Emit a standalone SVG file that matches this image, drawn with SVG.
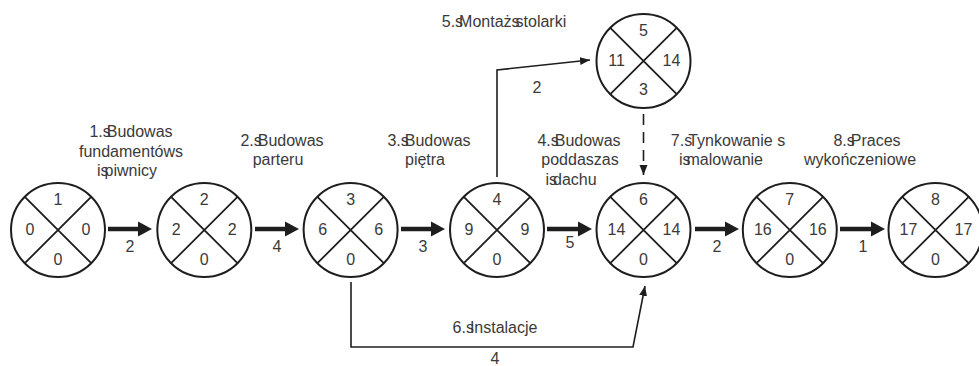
<svg xmlns="http://www.w3.org/2000/svg" xmlns:xlink="http://www.w3.org/1999/xlink" width="979" height="366" viewBox="0 0 979 366">
  <style>
    .ring { fill: #ffffff; stroke: #1e1e1e; stroke-width: 2; }
    .cross { stroke: #1e1e1e; stroke-width: 1.8; fill: none; }
    text { font-family: "Liberation Sans", Arial, sans-serif; font-size: 16px; fill: #3a3a3a; }
    .num { text-anchor: middle; }
    .lbl { text-anchor: middle; }
    .shaft { stroke: #1e1e1e; stroke-width: 4.5; fill: none; }
    .link { stroke: #1e1e1e; stroke-width: 1.6; fill: none; }
    .dash { stroke: #1e1e1e; stroke-width: 1.6; fill: none; stroke-dasharray: 11 7; }
    .head { fill: #1e1e1e; }
  </style>
  <defs>
    <!-- event node: circle split into four fields by a diagonal cross -->
    <g id="event">
      <circle class="ring" cx="0" cy="0" r="47"/>
      <path class="cross" d="M-33.2,-33.2 L33.2,33.2 M33.2,-33.2 L-33.2,33.2"/>
    </g>
    <!-- heavy arrowhead, tip at origin pointing right -->
    <path id="bigHead" class="head" d="M0,0 L-14,-7.5 L-14,7.5 Z"/>
    <marker id="thin" markerUnits="userSpaceOnUse" markerWidth="12" markerHeight="10" refX="10" refY="4" orient="auto">
      <path class="head" d="M0,0 L10,4 L0,8 Z"/>
    </marker>
  </defs>

  <!-- connectors -->
  <g id="connectors">
    <line class="shaft" x1="108" y1="229" x2="140" y2="229"/>
    <use xlink:href="#bigHead" x="152" y="229"/>
    <line class="shaft" x1="255" y1="229" x2="287" y2="229"/>
    <use xlink:href="#bigHead" x="299" y="229"/>
    <line class="shaft" x1="401" y1="229" x2="433" y2="229"/>
    <use xlink:href="#bigHead" x="445" y="229"/>
    <line class="shaft" x1="547" y1="229" x2="580" y2="229"/>
    <use xlink:href="#bigHead" x="592" y="229"/>
    <line class="shaft" x1="695" y1="229" x2="727" y2="229"/>
    <use xlink:href="#bigHead" x="739" y="229"/>
    <line class="shaft" x1="840" y1="229" x2="873" y2="229"/>
    <use xlink:href="#bigHead" x="885" y="229"/>

    <path class="link" d="M497,177 V70 L590,60" marker-end="url(#thin)"/>
    <path class="dash" d="M643.5,114 V166"/>
    <path class="link" d="M643.5,165 V175" marker-end="url(#thin)"/>
    <path class="link" d="M351,282 V347 H633 L645,286" marker-end="url(#thin)"/>

    <text class="lbl" x="130" y="252">2</text>
    <text class="lbl" x="277" y="252">4</text>
    <text class="lbl" x="423" y="252">3</text>
    <text class="lbl" x="570" y="248">5</text>
    <text class="lbl" x="717" y="252">2</text>
    <text class="lbl" x="863" y="252">1</text>
    <text class="lbl" x="537" y="93">2</text>
    <text class="lbl" x="495" y="364">4</text>
  </g>

  <!-- activity labels -->
  <g id="labels">
    <text class="lbl" x="131" y="137">1.s<tspan dx="-4">Budowa</tspan>s</text>
    <text class="lbl" x="131" y="157">fundamentóws</text>
    <text class="lbl" x="127" y="176">is<tspan dx="-4">piwnicy</tspan></text>

    <text class="lbl" x="282" y="146">2.s<tspan dx="-4">Budowa</tspan>s</text>
    <text class="lbl" x="278" y="165">parteru</text>

    <text class="lbl" x="429" y="146">3.s<tspan dx="-4">Budowa</tspan>s</text>
    <text class="lbl" x="425" y="165">piętra</text>

    <text class="lbl" x="579" y="146">4.s<tspan dx="-4">Budowa</tspan>s</text>
    <text class="lbl" x="580" y="165">poddaszas</text>
    <text class="lbl" x="571" y="185">is<tspan dx="-4">dachu</tspan></text>

    <text class="lbl" x="504" y="27">5.s<tspan dx="-4">Montaż</tspan>s<tspan dx="-4">stolarki</tspan></text>

    <text class="lbl" x="495" y="333">6.s<tspan dx="-4">Instalacje</tspan></text>

    <text class="lbl" x="728" y="146">7.s<tspan dx="-4">Tynkowanie</tspan> s</text>
    <text class="lbl" x="721" y="165">is<tspan dx="-4">malowanie</tspan></text>

    <text class="lbl" x="867" y="146">8.s<tspan dx="-4">Praces</tspan></text>
    <text class="lbl" x="860" y="165">wykończeniowe</text>
  </g>

  <!-- events -->
  <g id="node1" transform="translate(58,230)">
    <use xlink:href="#event"/>
    <text class="num" x="0" y="-25">1</text>
    <text class="num" x="-28" y="5">0</text>
    <text class="num" x="28" y="5">0</text>
    <text class="num" x="0" y="35">0</text>
  </g>
  <g id="node2" transform="translate(204.3,230)">
    <use xlink:href="#event"/>
    <text class="num" x="0" y="-25">2</text>
    <text class="num" x="-28" y="5">2</text>
    <text class="num" x="28" y="5">2</text>
    <text class="num" x="0" y="35">0</text>
  </g>
  <g id="node3" transform="translate(350.6,230)">
    <use xlink:href="#event"/>
    <text class="num" x="0" y="-25">3</text>
    <text class="num" x="-28" y="5">6</text>
    <text class="num" x="28" y="5">6</text>
    <text class="num" x="0" y="35">0</text>
  </g>
  <g id="node4" transform="translate(497,230)">
    <use xlink:href="#event"/>
    <text class="num" x="0" y="-25">4</text>
    <text class="num" x="-28" y="5">9</text>
    <text class="num" x="28" y="5">9</text>
    <text class="num" x="0" y="35">0</text>
  </g>
  <g id="node5" transform="translate(643.5,61)">
    <use xlink:href="#event"/>
    <text class="num" x="0" y="-25">5</text>
    <text class="num" x="-27" y="5">11</text>
    <text class="num" x="28" y="5">14</text>
    <text class="num" x="0" y="34">3</text>
  </g>
  <g id="node6" transform="translate(643.5,230)">
    <use xlink:href="#event"/>
    <text class="num" x="0" y="-25">6</text>
    <text class="num" x="-27" y="5">14</text>
    <text class="num" x="28" y="5">14</text>
    <text class="num" x="0" y="35">0</text>
  </g>
  <g id="node7" transform="translate(789.8,230)">
    <use xlink:href="#event"/>
    <text class="num" x="0" y="-25">7</text>
    <text class="num" x="-27" y="5">16</text>
    <text class="num" x="28" y="5">16</text>
    <text class="num" x="0" y="35">0</text>
  </g>
  <g id="node8" transform="translate(935.5,230)">
    <use xlink:href="#event"/>
    <text class="num" x="0" y="-25">8</text>
    <text class="num" x="-27" y="5">17</text>
    <text class="num" x="28" y="5">17</text>
    <text class="num" x="0" y="35">0</text>
  </g>
</svg>
